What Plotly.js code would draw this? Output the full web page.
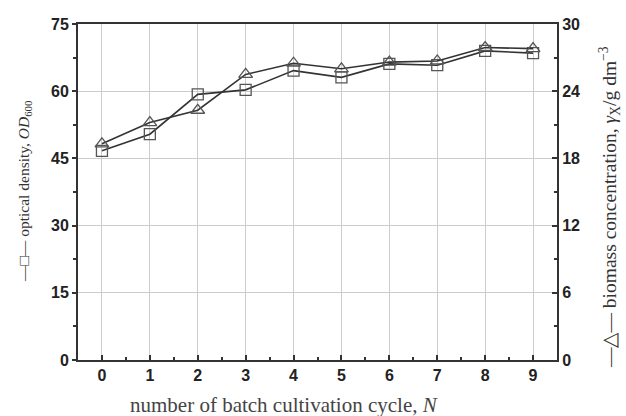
<!DOCTYPE html>
<html><head><meta charset="utf-8">
<script src="https://cdn.plot.ly/plotly-3.0.1.min.js"></script>
<style>html,body{margin:0;padding:0;background:#fff}</style>
</head><body>
<div id="chart" style="width:626px;height:416px"></div>
<script>
const cycles = [0,1,2,3,4,5,6,7,8,9];
const opticalDensity = [46.7,50.4,59.3,60.3,64.6,63.1,66.1,65.8,69.0,68.5];
const biomass = [19.3,21.2,22.3,25.5,26.5,26.0,26.6,26.7,27.9,27.8];
const xTicks = [0,1,2,3,4,5,6,7,8,9];
const yLeftTicks = [0,15,30,45,60,75];
const yRightTicks = [0,6,12,18,24,30];
const xTitle = 'number of batch cultivation cycle, <i>N</i>';
const yLeftTitle = '—□— optical density, <i>OD</i><sub>600</sub>';
const yRightTitle = '—△— biomass concentration, <i>γ</i><sub>X</sub>/g dm<sup>−3</sup>';

const lineColor = '#333';
const traces = [
  {x: cycles, y: opticalDensity, type:'scatter', mode:'lines+markers', yaxis:'y',
   line:{color:lineColor, width:1.6},
   marker:{symbol:'square-open', size:11, color:'#555', line:{width:1.3}}},
  {x: cycles, y: biomass, type:'scatter', mode:'lines+markers', yaxis:'y2',
   line:{color:lineColor, width:1.6},
   marker:{symbol:'triangle-up-open', size:12, color:'#555', line:{width:1.3}}}
];
const tickFont = {family:'Liberation Sans, Arial, sans-serif', size:16, color:'#222', weight:'bold'};
const serif = 'Liberation Serif, Times New Roman, serif';
const L=78, R=557, T=24, B=360;
function px(x){return (x-L)/(R-L);}
function py(y){return (B-y)/(B-T);}
const layout = {
  width:626, height:416,
  margin:{l:78, r:69, t:24, b:56},
  showlegend:false,
  paper_bgcolor:'#fff', plot_bgcolor:'#fff',
  xaxis:{range:[-0.5,9.5], tickvals:xTicks, ticktext:xTicks.map(String),
    showgrid:true, gridcolor:'#ccc', gridwidth:1, zeroline:false,
    showline:true, linecolor:'#333', linewidth:2, mirror:true,
    ticks:'inside', ticklen:5, tickwidth:2, tickcolor:'#333',
    minor:{ticks:'inside', ticklen:3, tickwidth:2, tickcolor:'#333', dtick:0.5, tick0:-0.5, showgrid:false},
    tickfont:tickFont},
  yaxis:{range:[0,75], tickvals:yLeftTicks, showgrid:true, gridcolor:'#ccc', gridwidth:1,
    zeroline:false, showline:true, linecolor:'#333', linewidth:2,
    ticks:'outside', ticklen:4, tickwidth:2, tickcolor:'#333',
    minor:{ticks:'outside', ticklen:3, tickwidth:2, tickcolor:'#333', dtick:7.5, showgrid:false},
    tickfont:tickFont},
  yaxis2:{range:[0,30], tickvals:yRightTicks, overlaying:'y', side:'right', showgrid:false,
    zeroline:false, showline:true, linecolor:'#333', linewidth:2,
    ticks:'inside', ticklen:5, tickwidth:2, tickcolor:'#333',
    minor:{ticks:'inside', ticklen:3, tickwidth:2, tickcolor:'#333', dtick:3, showgrid:false},
    tickfont:tickFont},
  annotations:[
    {text:xTitle, xref:'paper', yref:'paper', x:px(284), y:py(405), xanchor:'center', yanchor:'middle', showarrow:false, font:{family:serif, size:21, color:'#444'}},
    {text:yLeftTitle, xref:'paper', yref:'paper', x:px(24), y:py(191), xanchor:'center', yanchor:'middle', textangle:-90, showarrow:false, font:{family:serif, size:15.5, color:'#333'}},
    {text:yRightTitle, xref:'paper', yref:'paper', x:px(609), y:py(207), xanchor:'center', yanchor:'middle', textangle:-90, showarrow:false, font:{family:serif, size:19.5, color:'#333'}}
  ]
};
Plotly.newPlot('chart', traces, layout, {displayModeBar:false, staticPlot:true});
</script>
</body></html>
